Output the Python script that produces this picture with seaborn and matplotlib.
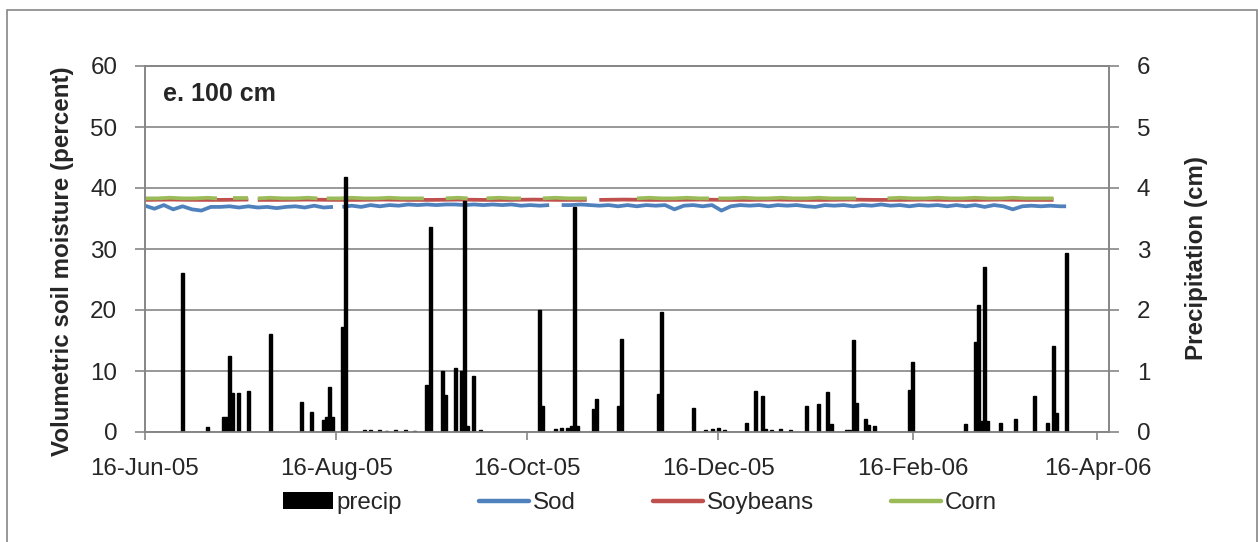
import numpy as np
import pandas as pd
import matplotlib
matplotlib.use("Agg")
import matplotlib.pyplot as plt
import seaborn as sns
from matplotlib.lines import Line2D
from matplotlib.patches import Patch, Rectangle

# ---------------- data (day offsets from 16-Jun-05) ----------------
start_date = "2005-06-16"
tick_dates = ["2005-06-16", "2005-08-16", "2005-10-16", "2005-12-16", "2006-02-16", "2006-04-16"]
tick_labels = ["16-Jun-05", "16-Aug-05", "16-Oct-05", "16-Dec-05", "16-Feb-06", "16-Apr-06"]

precip_day = [12, 20, 25, 26, 27, 28, 30, 33, 40, 50, 53, 57, 58, 59, 60, 63, 64,
              70, 72, 75, 77, 80, 83, 86, 90, 91, 95, 96, 99, 101, 102, 103, 105, 107,
              126, 127, 131, 133, 135, 136, 137, 138, 143, 144, 151, 152, 164, 165, 175,
              179, 181, 183, 185, 192, 195, 197, 198, 200, 203, 206, 211, 215, 218, 219,
              224, 225, 226, 227, 230, 231, 233, 244, 245, 262, 265, 266, 267, 268, 269,
              273, 278, 284, 288, 290, 291, 294]
precip_cm = [2.6, 0.08, 0.25, 0.25, 1.25, 0.64, 0.64, 0.68, 1.6, 0.5, 0.33, 0.2, 0.25, 0.73, 0.25, 1.72, 4.18,
             0.03, 0.03, 0.03, 0.02, 0.03, 0.03, 0.02, 0.77, 3.36, 1.0, 0.6, 1.05, 1.0, 3.78, 0.1, 0.92, 0.03,
             2.0, 0.43, 0.05, 0.07, 0.06, 0.1, 3.69, 0.1, 0.37, 0.54, 0.43, 1.52, 0.62, 1.97, 0.4,
             0.04, 0.05, 0.06, 0.04, 0.15, 0.68, 0.59, 0.05, 0.04, 0.05, 0.04, 0.43, 0.46, 0.65, 0.13,
             0.03, 0.04, 1.51, 0.47, 0.21, 0.12, 0.1, 0.69, 1.14, 0.13, 1.48, 2.08, 0.18, 2.7, 0.18,
             0.15, 0.22, 0.59, 0.15, 1.41, 0.31, 2.93]

sod_day = [0, 3, 6, 9, 12, 15, 18, 21, 24, 27, 30, 33, 36, 39, 42, 45, 48, 51, 54, 57, 60, 61,
           63, 66, 69, 72, 75, 78, 81, 84, 87, 90, 93, 96, 99, 102, 105, 108, 111, 114, 117, 120,
           123, 126, 129, 130,
           133, 136, 139, 142, 145, 148, 151, 154, 157, 160, 163, 166, 169, 172, 175, 178, 181,
           184, 187, 190, 193, 196, 199, 202, 205, 208, 211, 214, 217, 220, 223, 226, 229, 232,
           235, 238, 241, 244, 247, 250, 253, 256, 259, 262, 265, 268, 271, 274, 277, 280, 283,
           286, 289, 292, 294]
sod_pct = [37.1, 36.6, 37.2, 36.5, 37.0, 36.5, 36.3, 36.9, 36.9, 37.0, 36.8, 37.0, 36.8, 36.9, 36.7,
           36.9, 37.0, 36.8, 37.1, 36.8, 36.9, None,
           36.9, 37.1, 36.9, 37.2, 37.0, 37.2, 37.1, 37.3, 37.2, 37.3, 37.2, 37.3, 37.3, 37.2, 37.3,
           37.2, 37.3, 37.2, 37.3, 37.1, 37.2, 37.1, 37.2, None,
           37.2, 37.2, 37.3, 37.2, 37.1, 37.2, 37.0, 37.2, 37.0, 37.2, 37.1, 37.2, 36.5, 37.1, 37.2,
           37.0, 37.2, 36.3, 37.0, 37.2, 37.1, 37.2, 37.0, 37.2, 37.1, 37.2, 37.0, 36.9, 37.2, 37.1,
           37.2, 37.0, 37.2, 37.1, 37.3, 37.1, 37.2, 37.0, 37.2, 37.1, 37.2, 37.0, 37.2, 37.0, 37.2,
           36.9, 37.2, 37.0, 36.5, 37.0, 37.1, 37.0, 37.1, 37.0, 37.0]

soy_day = [0, 8, 16, 24, 33, 34,
           36, 44, 52, 60, 68, 76, 84, 92, 100, 108, 116, 124, 132, 141, 142,
           145, 153, 161, 169, 177, 185, 193, 201, 209, 217, 225, 233, 241, 249, 257, 265, 273,
           281, 290]
soy_pct = [38.05, 38.1, 38.05, 38.05, 38.1, None,
           38.05, 38.05, 38.1, 38.05, 38.05, 38.1, 38.05, 38.05, 38.1, 38.05, 38.05, 38.1, 38.05, 38.05, None,
           38.05, 38.1, 38.05, 38.05, 38.1, 38.05, 38.05, 38.1, 38.05, 38.05, 38.1, 38.05, 38.05, 38.1, 38.05,
           38.05, 38.1, 38.05, 38.05]

corn_day = [0, 4, 8, 12, 16, 20, 23, 24,
            28, 30, 33, 34,
            36, 40, 44, 48, 52, 55, 56,
            58, 62, 66, 70, 74, 78, 82, 86, 89, 90,
            96, 100, 103, 104,
            109, 113, 117, 120, 121,
            127, 131, 135, 138, 141, 142,
            157, 161, 165, 169, 173, 177, 180, 181,
            183, 187, 191, 195, 199, 203, 207, 211, 215, 219, 223, 227, 228,
            237, 241, 245, 249, 253, 257, 261, 265, 269, 273, 277, 281, 285, 290]
corn_pct = [38.3, 38.3, 38.4, 38.3, 38.3, 38.4, 38.3, None,
            38.3, 38.3, 38.3, None,
            38.3, 38.4, 38.3, 38.3, 38.4, 38.3, None,
            38.3, 38.3, 38.4, 38.3, 38.3, 38.4, 38.3, 38.3, 38.3, None,
            38.3, 38.4, 38.3, None,
            38.3, 38.4, 38.3, 38.3, None,
            38.3, 38.4, 38.3, 38.3, 38.3, None,
            38.3, 38.4, 38.3, 38.3, 38.4, 38.3, 38.3, None,
            38.3, 38.3, 38.4, 38.3, 38.3, 38.4, 38.3, 38.3, 38.4, 38.3, 38.3, 38.3, None,
            38.3, 38.4, 38.3, 38.3, 38.4, 38.3, 38.3, 38.4, 38.3, 38.3, 38.4, 38.3, 38.3, 38.3]

series_names = ["precip", "Sod", "Soybeans", "Corn"]
series_colors = ["black", "#4F81BD", "#C0504D", "#9BBB59"]

# ---------------- style ----------------
sns.set_style("white")
plt.rcParams["font.family"] = ["Liberation Sans", "DejaVu Sans"]
FS = 17.4
GRAY = "#868686"

W, H = 1258, 542
fig = plt.figure(figsize=(W / 100, H / 100), dpi=100)
ax = fig.add_axes([145 / W, 1 - 432 / H, (1109 - 145) / W, (432 - 66) / H])


def to_segments(days, vals):
    df = pd.DataFrame({"day": days, "val": pd.to_numeric(pd.Series(vals), errors="coerce")})
    df["seg"] = df["val"].isna().cumsum()
    return df.dropna()


for name, days, vals, col in [("Sod", sod_day, sod_pct, series_colors[1]),
                              ("Soybeans", soy_day, soy_pct, series_colors[2]),
                              ("Corn", corn_day, corn_pct, series_colors[3])]:
    d = to_segments(days, vals)
    sns.lineplot(data=d, x="day", y="val", units="seg", estimator=None, color=col,
                 lw=2.7, ax=ax, legend=False, solid_capstyle="butt")

ax.set_ylim(0, 60)
ax.set_yticks(np.arange(0, 61, 10))
ax.grid(axis="y", color=GRAY, lw=1.2)
ax.grid(axis="x", visible=False)
ax.set_axisbelow(True)
ax.set_xlabel("")
ax.set_ylabel("")

# precipitation bars on secondary axis
ax2 = ax.twinx()
pdf = pd.DataFrame({"day": precip_day, "precip": precip_cm})
sns.barplot(data=pdf, x="day", y="precip", native_scale=True, color="black", saturation=1,
            errorbar=None, width=0.95, edgecolor="black", linewidth=1.0, ax=ax2)
ax2.set_ylim(0, 6)
ax2.set_yticks(np.arange(0, 7, 1))
ax2.set_xlabel("")
ax2.set_ylabel("")
ax2.grid(False)

s0 = pd.Timestamp(start_date)
tick_days = [(pd.Timestamp(t) - s0).days for t in tick_dates]
ax.set_xlim(0, 307.7)
ax.set_xticks(tick_days)
ax.set_xticklabels(tick_labels)

ax.tick_params(axis="x", direction="out", length=6, width=1.2, color=GRAY, pad=13,
               labelsize=FS, bottom=True)
ax.tick_params(axis="y", direction="out", length=7, width=1.2, color=GRAY, pad=13,
               labelsize=FS, left=True)
ax2.tick_params(axis="y", direction="out", length=7, width=1.2, color=GRAY, pad=13,
                labelsize=FS, right=True)
for a in (ax, ax2):
    for sp in a.spines.values():
        sp.set_color(GRAY)
        sp.set_linewidth(1.2)

ax.text(0.019, 0.923, "e. 100 cm", transform=ax.transAxes, fontsize=18, fontweight="bold",
        ha="left", va="center")

fig.text(63 / W, 1 - 261.5 / H, "Volumetric soil moisture (percent)", rotation=90,
         ha="center", va="center", fontsize=FS, fontweight="bold")
fig.text(1197 / W, 1 - 258 / H, "Precipitation (cm)", rotation=90,
         ha="center", va="center", fontsize=FS, fontweight="bold")

handles = [Patch(facecolor="black", edgecolor="none")] + \
          [Line2D([], [], color=c, lw=3.2) for c in series_colors[1:]]
fig.legend(handles, series_names, loc="center", bbox_to_anchor=(640 / W, 1 - 503 / H),
           ncol=4, frameon=False, fontsize=FS, handlelength=2.07, handletextpad=0.15,
           columnspacing=3.2, borderpad=0)

fig.add_artist(Rectangle((7 / W, -0.05), (1257 - 7) / W, 1 - 10 / H + 0.05,
                         transform=fig.transFigure, fill=False, ec=GRAY, lw=1.2))

fig.savefig("out.png", dpi=100)
